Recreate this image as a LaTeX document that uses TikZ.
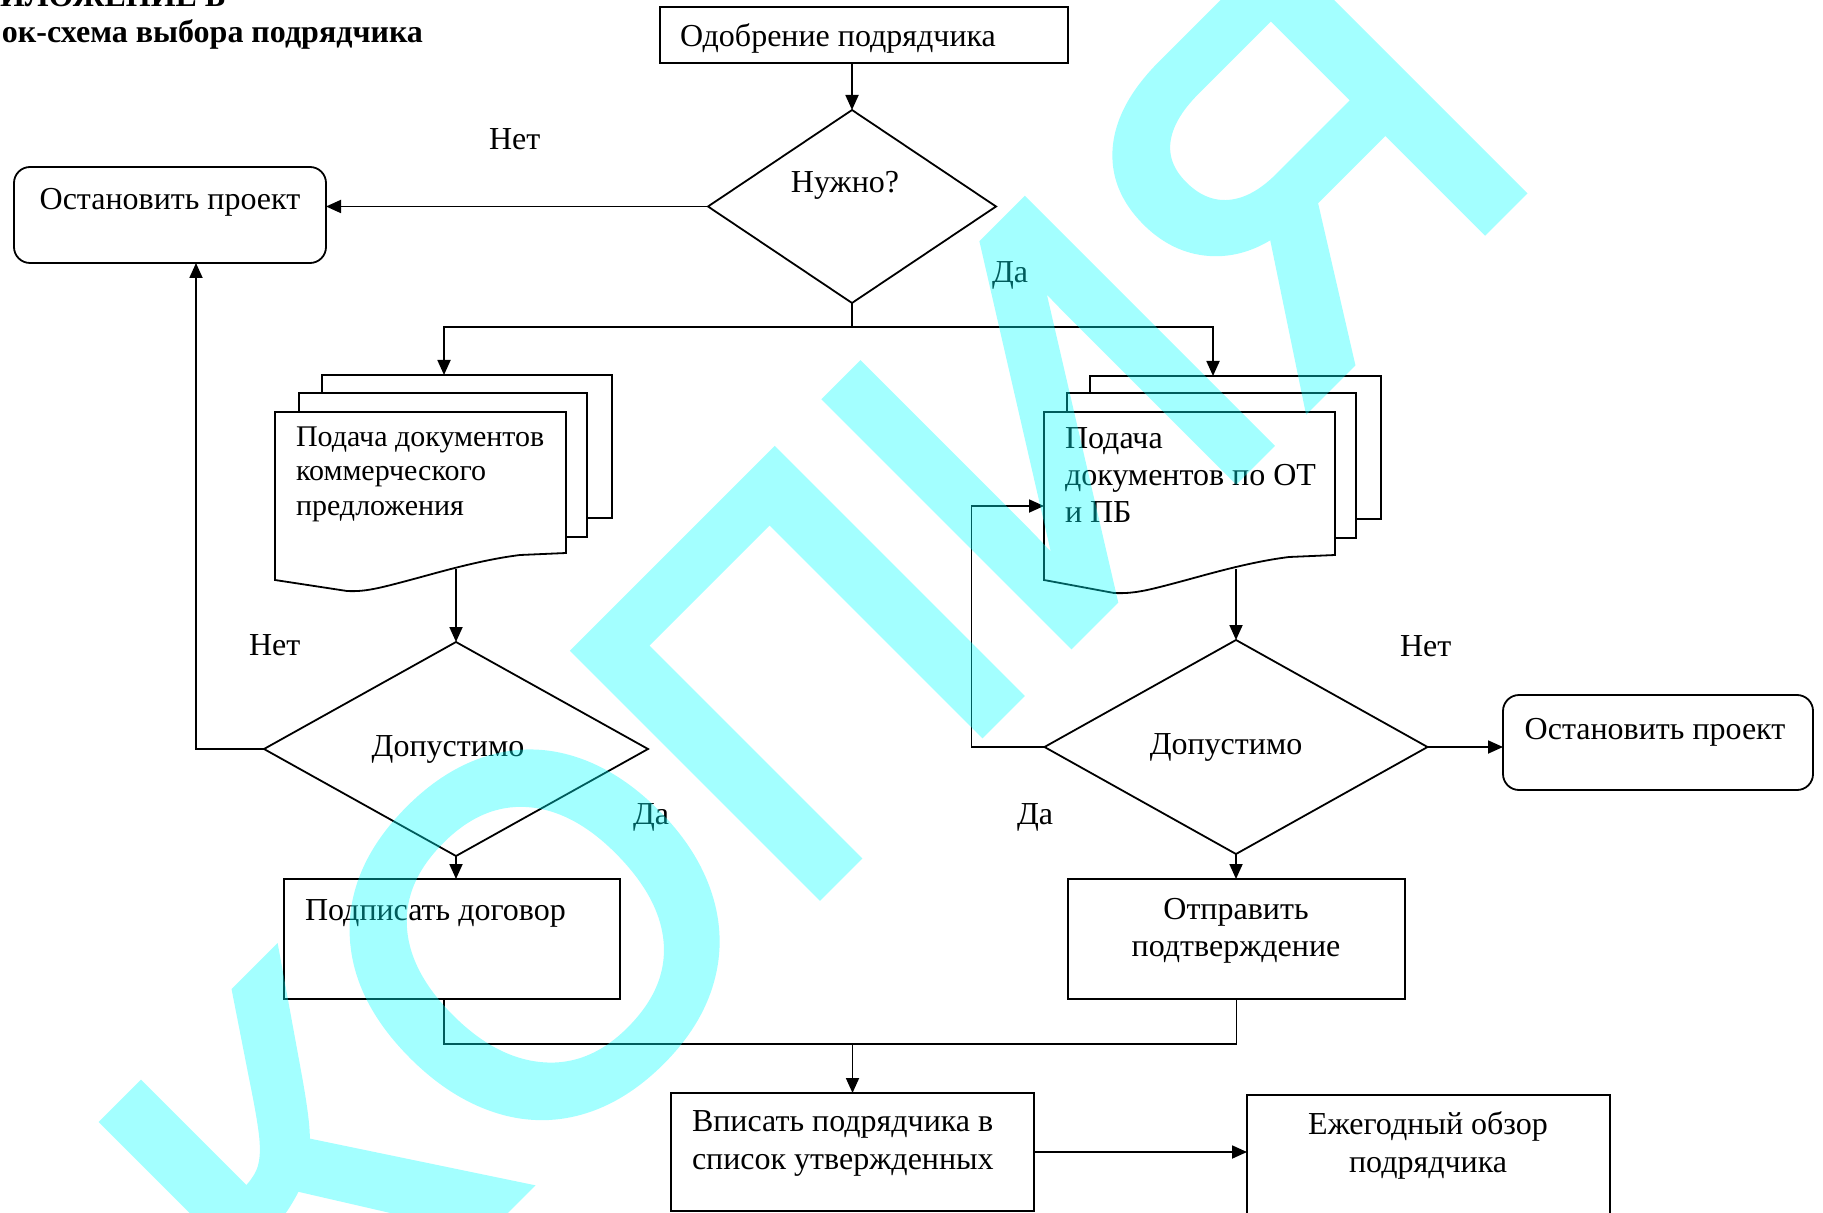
\documentclass[tikz,border=0pt]{standalone}
\usepackage{fontspec}
\setmainfont{Liberation Serif}
\newfontfamily\wmfont[FakeBold=2.8]{Liberation Sans}
\usetikzlibrary{arrows.meta,shapes.geometric}
\definecolor{wmcyan}{RGB}{0,255,255}
\newcommand\linesL[1]{\vtop{\halign{##\hfil\cr#1\crcr}}}
\newcommand\linesC[1]{\vtop{\halign{\hfil##\hfil\cr#1\crcr}}}
\tikzset{
  ln/.style={line width=0.9pt, draw=black},
  arr/.style={ln, -{Triangle[length=7.5pt,width=6.5pt]}},
  boxn/.style={draw=black, line width=0.9pt, inner sep=0pt, outer sep=0pt},
  roundbox/.style={boxn, rounded corners=8pt},
  dia/.style={diamond, draw=black, line width=0.9pt, inner sep=0pt, outer sep=0pt},
  txt/.style={inner sep=0pt, outer sep=0pt, font=\fontsize{16}{18.5}\selectfont},
  ttl/.style={inner sep=0pt, outer sep=0pt, font=\bfseries\fontsize{16}{19}\selectfont},
}
\begin{document}
\begin{tikzpicture}[x=0.5pt,y=-0.5pt]
\useasboundingbox (0,0) rectangle (1823,1213);
\fill[white] (0,0) rectangle (1823,1213);

% title
\node[ttl, anchor=base west] (t1) at (0,7) {ИЛОЖЕНИЕ Б};
\node[ttl, anchor=base west] (t2) at (2,43) {ок-схема выбора подрядчика};

% top
\node[boxn, minimum width=204pt, minimum height=28pt] (odob) at (864,35) {};
\node[txt, anchor=base west] (odobt) at (680,47) {Одобрение подрядчика};
\node[dia, minimum width=144pt, minimum height=96.5pt] (dq) at (852,206.5) {};
\node[txt, anchor=base] (dqt) at (845,193) {Нужно?};
\node[roundbox, minimum width=156pt, minimum height=48pt] (stopL) at (170,215) {};
\node[txt, anchor=base] (stopLt) at (170,210) {Остановить проект};
\node[txt, anchor=base west] (no1) at (489,150) {Нет};
\node[txt, anchor=base west] (yes1) at (992,283) {Да};

% left document stack
\draw[ln] (322,393) -- (322,375) -- (612,375) -- (612,518) -- (587,518);
\draw[ln] (299,412) -- (299,393) -- (587,393) -- (587,537) -- (566,537);
\draw[ln] (275,580) -- (275,412) -- (566,412) -- (566,553) -- (520,555)
  .. controls (480,560) and (440,572) .. (410,580)
  .. controls (380,588) and (365,592) .. (347,591) -- cycle;
\coordinate (inL) at (444,375);
\coordinate (outL) at (456,569);
\node[txt, anchor=base west, font=\fontsize{15}{17.25}\selectfont] (docLt) at (296,446)
  {\linesL{Подача документов\cr коммерческого\cr предложения}};

% right document stack
\draw[ln] (1090,393) -- (1090,376) -- (1381,376) -- (1381,519) -- (1356,519);
\draw[ln] (1067,412) -- (1067,393) -- (1356,393) -- (1356,538) -- (1335,538);
\draw[ln] (1044,580) -- (1044,412) -- (1335,412) -- (1335,555) -- (1289,557)
  .. controls (1249,562) and (1209,574) .. (1179,582)
  .. controls (1149,590) and (1134,594) .. (1114,593) -- cycle;
\coordinate (inR) at (1213,376);
\coordinate (outR) at (1236,569);
\coordinate (inRL) at (1044,506);
\node[txt, anchor=base west, font=\fontsize{16}{18.25}\selectfont] (docRt) at (1065,449)
  {\linesL{Подача\cr документов по ОТ\cr и ПБ}};

% left decision
\node[dia, minimum width=192pt, minimum height=107pt] (dL) at (456,749) {};
\node[txt, anchor=base] (dLt) at (448,756) {Допустимо};
\node[txt, anchor=base west] (no2) at (249,655) {Нет};
\node[txt, anchor=base west] (yes2) at (633,824) {Да};
\coordinate (upL) at (196,263);
\node[boxn, minimum width=168pt, minimum height=60pt] (podp) at (452,939) {};
\node[txt, anchor=base west] (podpt) at (305,920) {Подписать договор};
\coordinate (mL) at (444,999);

% right decision
\node[dia, minimum width=191.5pt, minimum height=107pt] (dR) at (1236,747) {};
\node[txt, anchor=base] (dRt) at (1226,754) {Допустимо};
\node[txt, anchor=base west] (no3) at (1400,656) {Нет};
\node[txt, anchor=base west] (yes3) at (1017,824) {Да};
\node[roundbox, minimum width=155pt, minimum height=47.5pt] (stopR) at (1658,742.5) {};
\node[txt, anchor=base] (stopRt) at (1655,739) {Остановить проект};
\node[boxn, minimum width=168.5pt, minimum height=60pt] (otpr) at (1236.5,939) {};
\node[txt, anchor=base, font=\fontsize{16}{18.5}\selectfont] (otprt) at (1236,919)
  {\linesC{Отправить\cr подтверждение}};

% bottom
\node[boxn, minimum width=181.5pt, minimum height=59pt] (vpis) at (852.5,1152) {};
\node[txt, anchor=base west, font=\fontsize{16}{19}\selectfont] (vpist) at (692,1131)
  {\linesL{Вписать подрядчика в\cr список утвержденных}};
\node[boxn, minimum width=181.5pt, minimum height=72.5pt] (ezheg) at (1428.5,1167.5) {};
\node[txt, anchor=base, font=\fontsize{16}{19}\selectfont] (ezhegt) at (1428,1134)
  {\linesC{Ежегодный обзор\cr подрядчика}};

% connectors
\draw[arr] (dq.north |- odob.south) -- (dq.north);
\draw[arr] (dq.west) -- (dq.west -| stopL.east);
\draw[arr] (dq.south) |- ([yshift=24pt]inL) -- (inL);
\draw[arr] (dq.south) |- ([yshift=24.5pt]inR) -- (inR);
\draw[arr] (outL) -- (dL.north);
\draw[arr] (dL.west) -| (upL);
\draw[arr] (dL.south) -- (dL.south |- podp.north);
\draw[ln] (mL) -- ++(0,45) -| (otpr.south);
\draw[arr] ([yshift=24.5pt]vpis.north) -- (vpis.north);
\draw[arr] (vpis.east) -- (vpis.east -| ezheg.west);
\draw[arr] (outR) -- (dR.north);
\draw[arr] (dR.east) -- (dR.east -| stopR.west);
\draw[arr] (dR.west) -- ++(-73,0) |- (inRL);
\draw[arr] (dR.south) -- (dR.south |- otpr.north);

% watermark, semi-transparent over the chart
\begin{scope}[transparency group, opacity=0.36]
\node[font=\wmfont\fontsize{247}{247}\selectfont, text=wmcyan,
  rotate=45, anchor=base east, inner sep=0pt] (wm) at (1546,165) {КОПИЯ};
\end{scope}
\end{tikzpicture}
\end{document}
